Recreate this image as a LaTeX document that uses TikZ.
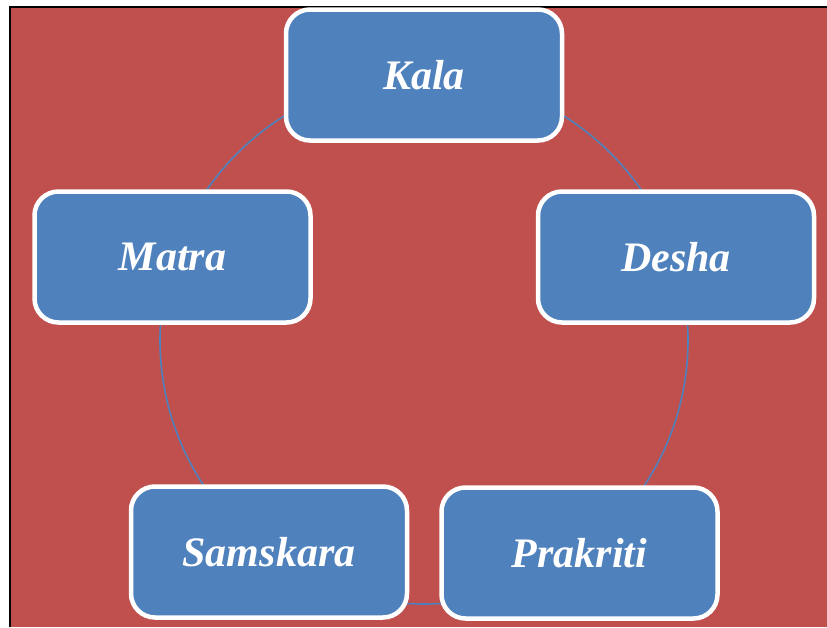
\documentclass[tikz,border=0pt]{standalone}
\usepackage{fontspec}
\setmainfont{Liberation Serif}
\begin{document}
\begin{tikzpicture}[x=1pt,y=-1pt,
  stagebox/.style={draw=white, line width=4.5pt, fill=boxblue, rounded corners=24pt,
    minimum width=276pt, minimum height=131pt, inner sep=0pt,
    text=white, font=\fontsize{42}{46}\selectfont\bfseries\itshape},
  ring/.style={draw=boxblue, line width=1.6pt}]
\definecolor{boxblue}{HTML}{4F81BD}
\definecolor{bgred}{HTML}{C0504D}
\useasboundingbox (0,0) rectangle (827,627);
\fill[white] (0,0) rectangle (827,627);
\fill[bgred] (10,7) rectangle (827,627);
\draw[black, line width=2pt] (10,627) -- (10,7) -- (827,7);
\coordinate (c) at (424,340);
\draw[ring] (c) circle[radius=264];
\node[stagebox] (kala) at (424,75) {Kala};
\node[stagebox] (matra) at (172.5,257) {Matra};
\node[stagebox] (desha) at (676,257) {Desha};
\node[stagebox] (samskara) at (269,552) {Samskara};
\node[stagebox] (prakriti) at (579.5,553) {Prakriti};
\end{tikzpicture}
\end{document}
